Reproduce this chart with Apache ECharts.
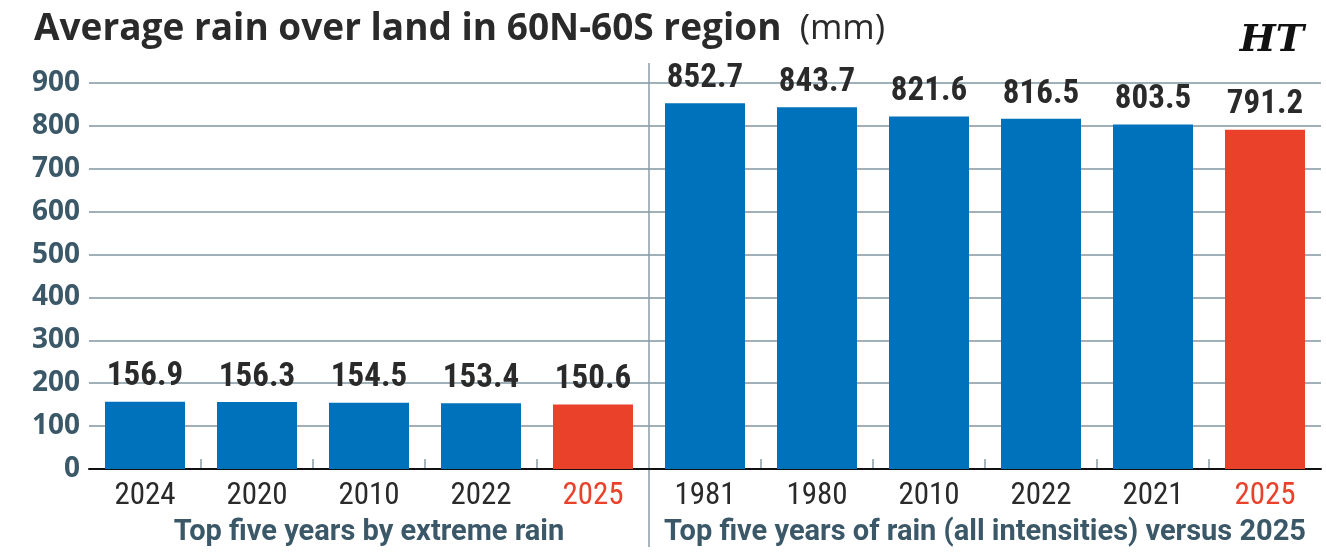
<!DOCTYPE html>
<html>
<head>
<meta charset="utf-8">
<script src="https://cdn.jsdelivr.net/npm/echarts@6/dist/echarts.min.js"></script>
<style>
  html, body { margin: 0; padding: 0; background: #fff; }
  #chart { width: 1326px; height: 558px; }
</style>
</head>
<body>
<div id="chart"></div>
<script>
// extreme rain group
const extremeYears = ['2024', '2020', '2010', '2022', '2025']
const extremeRain = [156.9, 156.3, 154.5, 153.4, 150.6]
// all intensities group
const allYears = ['1981', '1980', '2010', '2022', '2021', '2025']
const allRain = [852.7, 843.7, 821.6, 816.5, 803.5, 791.2]
const highlightYear = '2025'
const yTicks = [0, 100, 200, 300, 400, 500, 600, 700, 800, 900]
const groupTitles = ['Top five years by extreme rain', 'Top five years of rain (all intensities) versus 2025']

const NARROW = "'Roboto Condensed', 'Liberation Sans Narrow', sans-serif"
const WIDE = "'Open Sans', 'Noto Sans', sans-serif"
const BLUE = '#0071bb'
const RED = '#ea412b'
const DARK = '#2a2a2b'
const SLATE = '#3b5868'
const GRID = '#9fb0b9'
const TICK = '#8d9ca6'

const years = [...extremeYears, ...allYears]
const values = [...extremeRain, ...allRain]
const isHighlight = (i) => years[i] === highlightYear
const barData = values.map((v, i) => ({
  value: v,
  itemStyle: { color: isHighlight(i) ? RED : BLUE },
}))

const chart = echarts.init(document.getElementById('chart'), null, { renderer: 'canvas' })

chart.setOption({
  animation: false,
  textStyle: { fontFamily: NARROW },
  title: {
    text: '{b|Average rain over land in 60N-60S region}{n|  (mm)}',
    left: 29,
    top: 6,
    textStyle: {
      rich: {
        b: { fontFamily: WIDE, fontWeight: 'bold', fontSize: 37, color: DARK },
        n: { fontFamily: WIDE, fontWeight: 'normal', fontSize: 35, color: DARK },
      },
    },
  },
  grid: { left: 89, right: 5, top: 83, bottom: 89, containLabel: false },
  xAxis: {
    type: 'category',
    data: years,
    axisLine: { lineStyle: { color: '#111', width: 2 } },
    axisTick: { show: false },
    axisLabel: {
      interval: 0,
      margin: 12,
      fontFamily: NARROW,
      fontSize: 31,
      color: DARK,
      formatter: (v, i) => isHighlight(i) ? `{r|${v}}` : v,
      rich: { r: { color: RED, fontFamily: NARROW, fontSize: 31 } },
    },
  },
  yAxis: {
    type: 'value',
    min: 0,
    max: 900,
    interval: 100,
    axisLine: { show: false },
    axisTick: { show: false },
    axisLabel: {
      margin: 9,
      fontFamily: WIDE,
      fontSize: 28,
      fontWeight: 'bold',
      color: SLATE,
      formatter: (v) => yTicks.includes(v) ? String(v) : '',
    },
    splitLine: { lineStyle: { color: GRID, width: 2 } },
  },
  series: [{
    type: 'bar',
    data: barData,
    barWidth: 80,
    label: {
      show: true,
      position: 'top',
      distance: 8,
      fontFamily: NARROW,
      fontWeight: 'bold',
      fontSize: 33,
      color: DARK,
      formatter: (p) => p.value.toFixed(1),
    },
  }],
})

// divider, short boundary ticks and group captions, placed from the axis scale
const baseY = chart.convertToPixel({ yAxisIndex: 0 }, 0)
const firstX = chart.convertToPixel({ xAxisIndex: 0 }, 0)
const step = chart.convertToPixel({ xAxisIndex: 0 }, 1) - firstX
const divX = firstX + step * (extremeYears.length - 0.5)
const leftC = firstX - step / 2 + step * extremeYears.length / 2
const rightC = divX + step * allYears.length / 2

const ticks = []
for (let k = 1; k < years.length; k++) {
  if (k === extremeYears.length) continue
  const x = firstX + step * (k - 0.5)
  ticks.push({
    type: 'line',
    shape: { x1: x, y1: baseY - 10, x2: x, y2: baseY },
    style: { stroke: TICK, lineWidth: 1.5 },
  })
}

chart.setOption({
  graphic: [
    ...ticks,
    {
      type: 'line',
      shape: { x1: divX, y1: 63, x2: divX, y2: baseY + 78 },
      style: { stroke: TICK, lineWidth: 1.5 },
    },
    {
      type: 'text',
      x: leftC, y: baseY + 49,
      style: { text: groupTitles[0], fill: SLATE, font: `bold 29px Roboto, sans-serif`, textAlign: 'center' },
    },
    {
      type: 'text',
      x: rightC, y: baseY + 49,
      style: { text: groupTitles[1], fill: SLATE, font: `bold 29px Roboto, sans-serif`, textAlign: 'center' },
    },
    {
      type: 'text',
      right: 22, top: 22,
      style: { text: 'HT', fill: '#111', font: "bold italic 38px 'DejaVu Serif', serif" },
    },
  ],
})
</script>
</body>
</html>
